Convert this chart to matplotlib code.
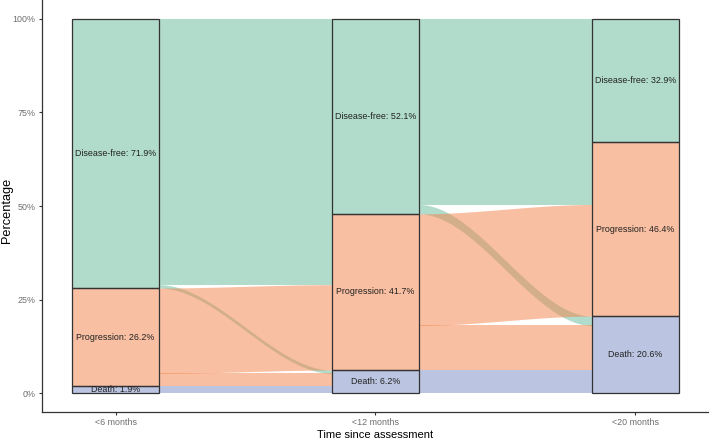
import numpy as np
import matplotlib
matplotlib.use("Agg")
import matplotlib.pyplot as plt

plt.rcParams['font.family'] = ['Liberation Sans', 'DejaVu Sans']

times = ['<6 months', '<12 months', '<20 months']
states = ['Disease-free', 'Progression', 'Death']

# stratum percentages per time point
pct_disease_free = [71.9, 52.1, 32.9]
pct_progression = [26.2, 41.7, 46.4]
pct_death = [1.9, 6.2, 20.6]

# flows between consecutive time points (percent of patients)
flow_from = ['Disease-free', 'Disease-free', 'Disease-free', 'Progression', 'Progression', 'Death']
flow_to = ['Disease-free', 'Progression', 'Death', 'Progression', 'Death', 'Death']
flow_6_12 = [52.1, 18.9, 0.9, 22.8, 3.4, 1.9]
flow_12_20 = [32.9, 16.7, 2.5, 29.8, 11.9, 6.2]

base_colors = {'Disease-free': '#65BB9B', 'Progression': '#F38147', 'Death': '#798BC5'}
alpha = 0.5
width = 1 / 3
rank = {s: k for k, s in enumerate(states)}


def stack_positions(order, values):
    # order is top-to-bottom; stack from 0 at the bottom
    pos = {}
    y = 0.0
    for idx in reversed(order):
        pos[idx] = (y, y + values[idx])
        y += values[idx]
    return pos


def smooth(t):
    return 3 * t ** 2 - 2 * t ** 3


fig = plt.figure(figsize=(7.09, 4.4), dpi=100)
ax = fig.add_axes([42 / 709, 28 / 440, 667 / 709, 412 / 440])

# flows
for g, vals in enumerate([flow_6_12, flow_12_20]):
    idxs = list(range(len(vals)))
    left_order = sorted(idxs, key=lambda k: (rank[flow_from[k]], rank[flow_to[k]]))
    right_order = sorted(idxs, key=lambda k: (rank[flow_to[k]], rank[flow_from[k]]))
    lpos = stack_positions(left_order, vals)
    rpos = stack_positions(right_order, vals)
    x0 = (g + 1) + width / 2
    x1 = (g + 2) - width / 2
    t = np.linspace(0, 1, 200)
    xs = x0 + (x1 - x0) * t
    s = smooth(t)
    for k in sorted(idxs, key=lambda k: rank[flow_from[k]]):
        lb, lt = lpos[k]
        rb, rt = rpos[k]
        bot = lb + (rb - lb) * s
        top = lt + (rt - lt) * s
        ax.fill_between(xs, bot, top, color=base_colors[flow_from[k]],
                        alpha=alpha, linewidth=0, zorder=1)

# strata
strata = {'Disease-free': pct_disease_free, 'Progression': pct_progression, 'Death': pct_death}
for i, tm in enumerate(times):
    y = 0.0
    for st in reversed(states):
        v = strata[st][i]
        ax.bar(i + 1, v, width=width, bottom=y, color=base_colors[st], alpha=alpha,
               linewidth=0, zorder=2)
        ax.bar(i + 1, v, width=width, bottom=y, fill=False, edgecolor='#333333',
               linewidth=0.9, zorder=3)
        ax.text(i + 1, y + v / 2, f'{st}: {v}%', ha='center', va='center',
                fontsize=6.4, color='#222222', zorder=4)
        y += v

ax.set_xlim(1 - width / 2 - 0.05 * (2 + width), 3 + width / 2 + 0.05 * (2 + width))
ax.set_ylim(-5, 105)
ax.set_xticks([1, 2, 3])
ax.set_xticklabels(times)
ax.set_yticks([0, 25, 50, 75, 100])
ax.set_yticklabels(['0%', '25%', '50%', '75%', '100%'])
ax.tick_params(axis='both', labelsize=6.4, labelcolor='#6e6e6e', color='#333333',
               length=2.5, width=0.8, pad=2)
for side in ['top', 'right']:
    ax.spines[side].set_visible(False)
for side in ['left', 'bottom']:
    ax.spines[side].set_color('#333333')
    ax.spines[side].set_linewidth(0.9)
ax.set_xlabel('Time since assessment', fontsize=8, labelpad=2)
ax.set_ylabel('Percentage', fontsize=9.2, va='center')
ax.yaxis.set_label_coords(-35 / 667, 0.49)

fig.savefig('out.png', dpi=100)
